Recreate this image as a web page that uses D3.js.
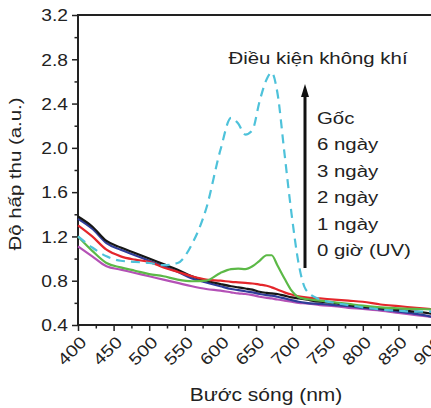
<!DOCTYPE html>
<html>
<head>
<meta charset="utf-8">
<script src="https://cdn.jsdelivr.net/npm/d3@7"></script>
<style>
  body { margin: 0; background: #fff; }
  text { font-family: "Liberation Sans", Arial, sans-serif; fill: #222; }
</style>
</head>
<body>
<svg id="chart" width="431" height="408"></svg>
<script>
// wavelength grid (nm)
const wavelengths = [400, 420, 440, 460, 480, 500, 520, 540, 560, 580, 600, 615, 625, 635, 645, 655, 665, 672, 680, 690, 700, 710, 720, 740, 760, 780, 800, 825, 850, 875, 900];

// absorbance for each sample
const absMagenta = [1.11, 1.02, 0.93, 0.90, 0.87, 0.84, 0.81, 0.78, 0.75, 0.725, 0.71, 0.695, 0.685, 0.68, 0.67, 0.655, 0.645, 0.64, 0.63, 0.62, 0.61, 0.60, 0.595, 0.58, 0.57, 0.555, 0.545, 0.53, 0.51, 0.49, 0.47];
const absBlue = [1.36, 1.27, 1.14, 1.08, 1.03, 0.98, 0.93, 0.88, 0.82, 0.785, 0.75, 0.725, 0.715, 0.705, 0.695, 0.68, 0.67, 0.665, 0.655, 0.64, 0.625, 0.61, 0.60, 0.59, 0.58, 0.57, 0.555, 0.54, 0.52, 0.50, 0.47];
const absBlack = [1.38, 1.29, 1.16, 1.10, 1.05, 1.00, 0.95, 0.90, 0.84, 0.80, 0.77, 0.75, 0.74, 0.73, 0.72, 0.70, 0.69, 0.685, 0.68, 0.665, 0.65, 0.64, 0.63, 0.61, 0.60, 0.58, 0.565, 0.55, 0.535, 0.52, 0.50];
const absRed = [1.30, 1.20, 1.08, 1.02, 0.99, 0.97, 0.92, 0.88, 0.84, 0.81, 0.80, 0.79, 0.785, 0.78, 0.775, 0.765, 0.755, 0.74, 0.72, 0.695, 0.675, 0.66, 0.65, 0.64, 0.63, 0.62, 0.61, 0.585, 0.57, 0.555, 0.54];
const absGreen = [1.20, 1.07, 0.96, 0.92, 0.89, 0.86, 0.84, 0.81, 0.795, 0.80, 0.87, 0.905, 0.91, 0.905, 0.93, 0.98, 1.03, 1.03, 0.94, 0.82, 0.71, 0.65, 0.635, 0.62, 0.605, 0.59, 0.575, 0.56, 0.55, 0.545, 0.54];
const absCyan = [1.20, 1.10, 1.02, 0.98, 0.97, 0.96, 0.94, 0.96, 1.13, 1.45, 1.98, 2.27, 2.22, 2.12, 2.16, 2.42, 2.62, 2.68, 2.50, 1.95, 1.40, 0.95, 0.72, 0.63, 0.60, 0.58, 0.56, 0.54, 0.53, 0.52, 0.52];

const xTicks = [400, 450, 500, 550, 600, 650, 700, 750, 800, 850, 900];
const yTicks = [0.4, 0.8, 1.2, 1.6, 2.0, 2.4, 2.8, 3.2];
const legendLabels = ["Gốc", "6 ngày", "3 ngày", "2 ngày", "1 ngày", "0 giờ (UV)"];

const svg = d3.select("#chart");

const x = d3.scaleLinear().domain([400, 900]).range([78, 434]);
const y = d3.scaleLinear().domain([0.4, 3.2]).range([325, 15]);

const sx = 1.2; // wide lettering of the original

// minor ticks
const xMinor = d3.range(425, 901, 50);
const yMinor = d3.range(0.6, 3.2, 0.4);

svg.append("g")
    .attr("transform", "translate(0,325)")
    .call(d3.axisBottom(x).tickValues(xMinor).tickSize(3.5).tickFormat(""))
    .call(g => g.select(".domain").remove())
    .selectAll("line").attr("stroke", "#222").attr("stroke-width", 1.5);

svg.append("g")
    .attr("transform", "translate(78,0)")
    .call(d3.axisLeft(y).tickValues(yMinor).tickSize(3.5).tickFormat(""))
    .call(g => g.select(".domain").remove())
    .selectAll("line").attr("stroke", "#222").attr("stroke-width", 1.5);

// major ticks
const xAxis = svg.append("g")
    .attr("transform", "translate(0,325)")
    .call(d3.axisBottom(x).tickValues(xTicks).tickSize(6).tickFormat(d3.format("d")))
    .call(g => g.select(".domain").remove());
xAxis.selectAll("line").attr("stroke", "#222").attr("stroke-width", 1.5);
xAxis.selectAll("text")
    .attr("x", 0).attr("y", 0).attr("dy", "0.35em")
    .attr("text-anchor", "end")
    .attr("transform", "translate(5,14) rotate(-45) scale(" + sx + ",1)")
    .style("font-size", "16.5px")
    .attr("fill", "#1e1e1e");

const yAxis = svg.append("g")
    .attr("transform", "translate(78,0)")
    .call(d3.axisLeft(y).tickValues(yTicks).tickSize(6).tickFormat(d3.format(".1f")))
    .call(g => g.select(".domain").remove());
yAxis.selectAll("line").attr("stroke", "#222").attr("stroke-width", 1.5);
yAxis.selectAll("text")
    .attr("x", -10 / sx).attr("dy", "0.36em")
    .attr("transform", "scale(" + sx + ",1)")
    .style("font-size", "16px")
    .attr("fill", "#1e1e1e");

// frame lines
svg.append("line")
    .attr("x1", 78).attr("x2", 431).attr("y1", 15).attr("y2", 15)
    .attr("stroke", "#222").attr("stroke-width", 2);
svg.append("line")
    .attr("x1", 78).attr("x2", 431).attr("y1", 325).attr("y2", 325)
    .attr("stroke", "#222").attr("stroke-width", 2);
svg.append("line")
    .attr("x1", 78).attr("x2", 78).attr("y1", 14).attr("y2", 326)
    .attr("stroke", "#222").attr("stroke-width", 2);

// curves
const line = d3.line()
    .x((d, i) => x(wavelengths[i]))
    .y(d => y(d))
    .curve(d3.curveMonotoneX);

const series = [
    { vals: absMagenta, color: "#b451b6", dash: null },
    { vals: absBlue, color: "#2f3c99", dash: null },
    { vals: absBlack, color: "#161616", dash: null },
    { vals: absRed, color: "#e4262b", dash: null },
    { vals: absGreen, color: "#5cb947", dash: null },
    { vals: absCyan, color: "#4ec2da", dash: "9,6" }
];

series.forEach(s => {
    svg.append("path")
        .datum(s.vals)
        .attr("d", line)
        .attr("fill", "none")
        .attr("stroke", s.color)
        .attr("stroke-width", 2.2)
        .attr("stroke-dasharray", s.dash);
});

// annotation
svg.append("text")
    .text("Điều kiện không khí")
    .attr("text-anchor", "middle")
    .attr("transform", "translate(318,64) scale(" + sx + ",1)")
    .style("font-size", "17px");

// arrow
svg.append("line")
    .attr("x1", 305).attr("x2", 305).attr("y1", 268).attr("y2", 94)
    .attr("stroke", "#111").attr("stroke-width", 3);
svg.append("path")
    .attr("d", "M305,84 L301,97 L309,97 Z")
    .attr("fill", "#111");

legendLabels.forEach((t, i) => {
    svg.append("text")
        .text(t)
        .attr("transform", "translate(317," + (124 + i * 26.4) + ") scale(" + sx + ",1)")
        .style("font-size", "17px");
});

// axis titles
svg.append("text")
    .text("Bước sóng (nm)")
    .attr("text-anchor", "middle")
    .attr("transform", "translate(266,401) scale(" + sx + ",1)")
    .style("font-size", "17.5px");

svg.append("text")
    .text("Độ hấp thu (a.u.)")
    .attr("text-anchor", "middle")
    .attr("transform", "translate(21,174) rotate(-90) scale(" + sx + ",1)")
    .style("font-size", "17px");
</script>
</body>
</html>
